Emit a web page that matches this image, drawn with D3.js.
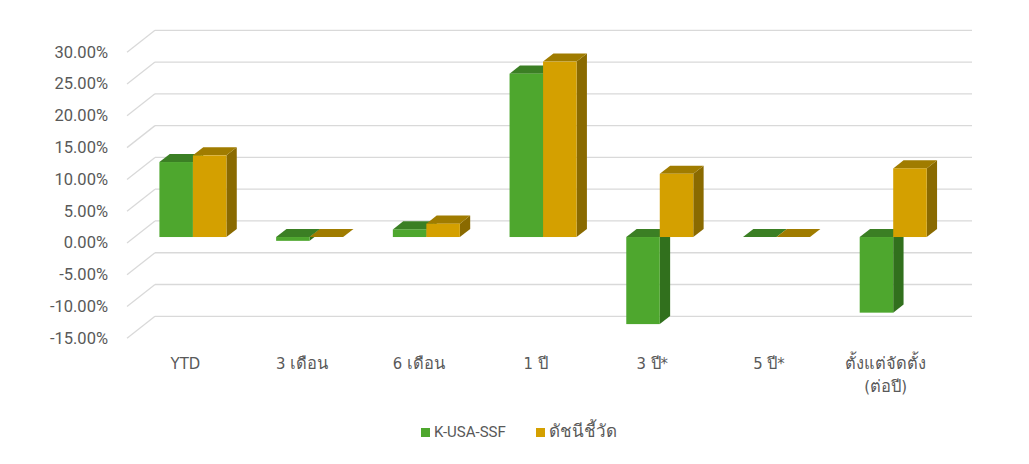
<!DOCTYPE html>
<html>
<head>
<meta charset="utf-8">
<script src="https://cdn.jsdelivr.net/npm/d3@7"></script>
<style>
  html, body { margin: 0; padding: 0; background: #ffffff; }
  svg { display: block; }
</style>
</head>
<body>
<svg id="chart" width="1029" height="464"></svg>
<script>
const categories = ["YTD", "3 เดือน", "6 เดือน", "1 ปี", "3 ปี*", "5 ปี*", "ตั้งแต่จัดตั้ง\n(ต่อปี)"];
const seriesNames = ["K-USA-SSF", "ดัชนีชี้วัด"];
const fundValues = [11.8, -0.6, 1.2, 25.7, -13.7, 0, -11.9];
const indexValues = [12.85, 0, 2.1, 27.6, 9.95, 0, 10.8];
const tickValues = [-15, -10, -5, 0, 5, 10, 15, 20, 25, 30];

const colors = [
  { front: "#4EA72E", top: "#3B7F24", side: "#31701D" },
  { front: "#D4A000", top: "#A07C00", side: "#8A6A00" }
];

const svg = d3.select("#chart");

// Oblique 3D projection: depth offset of the full wall
const DX = 28, DY = 22;
const zFront = 0.27, zBack = 0.64;

const x = d3.scaleBand().domain(categories).range([127, 944]).paddingInner(0).paddingOuter(0);
const y = d3.scaleLinear().domain([-15, 30]).range([338.3, 52.3]);
const barW = 33.5;
const xs = d3.scaleBand().domain(seriesNames).range([-barW, barW]);

const proj = (px, py, z) => [px + DX * z, py - DY * z];

// Gridlines: back wall + side wall
const grid = svg.append("g");
tickValues.forEach(t => {
  const yf = y(t);
  const [bx0, by] = proj(x.range()[0], yf, 1);
  const [bx1] = proj(x.range()[1], yf, 1);
  grid.append("line").attr("x1", x.range()[0]).attr("y1", yf).attr("x2", bx0).attr("y2", by)
    .attr("stroke", "#d9d9d9").attr("stroke-width", 1.3);
  grid.append("line").attr("x1", bx0).attr("y1", by).attr("x2", bx1).attr("y2", by)
    .attr("stroke", "#d9d9d9").attr("stroke-width", 1.3);
});

// Y axis labels
const fmt = v => v.toFixed(2) + "%";
svg.append("g").selectAll("text").data(tickValues).join("text")
  .attr("x", 108).attr("y", d => y(d) + 1)
  .attr("text-anchor", "end").attr("dominant-baseline", "middle")
  .attr("font-family", "Roboto, 'Liberation Sans', sans-serif").attr("font-size", 16.5)
  .attr("fill", "#595959")
  .text(fmt);

// Bars
const series = [fundValues, indexValues];
const bars = svg.append("g");
const ddx = DX * (zBack - zFront), ddy = DY * (zBack - zFront);
categories.forEach((c, i) => {
  series.forEach((vals, s) => {
    const v = vals[i];
    const cx = x(c) + x.bandwidth() / 2;
    const x0f = cx + xs(seriesNames[s]);
    const x1f = x0f + xs.bandwidth();
    const [x0, yTop] = proj(x0f, y(Math.max(v, 0)), zFront);
    const [x1, yBot] = proj(x1f, y(Math.min(v, 0)), zFront);
    const col = colors[s];
    const pts = a => a.map(p => p.join(",")).join(" ");
    bars.append("polygon")
      .attr("points", pts([[x1, yTop], [x1 + ddx, yTop - ddy], [x1 + ddx, yBot - ddy], [x1, yBot]]))
      .attr("fill", col.side);
    bars.append("polygon")
      .attr("points", pts([[x0, yTop], [x1, yTop], [x1 + ddx, yTop - ddy], [x0 + ddx, yTop - ddy]]))
      .attr("fill", col.top);
    bars.append("rect")
      .attr("x", x0).attr("y", yTop).attr("width", x1 - x0).attr("height", yBot - yTop)
      .attr("fill", col.front);
  });
});

// Category labels
const catG = svg.append("g");
categories.forEach(c => {
  const lines = c.split("\n");
  const t = catG.append("text")
    .attr("x", x(c) + x.bandwidth() / 2)
    .attr("y", 369)
    .attr("text-anchor", "middle")
    .attr("font-family", "Tahoma, 'DejaVu Sans Condensed', sans-serif")
    .attr("font-size", 16.5)
    .attr("fill", "#595959");
  lines.forEach((ln, k) => {
    t.append("tspan").attr("x", x(c) + x.bandwidth() / 2).attr("dy", k === 0 ? 0 : 23).text(ln);
  });
});

// Legend
const legend = svg.append("g");
const legendX = [421, 536];
seriesNames.forEach((n, s) => {
  legend.append("rect").attr("x", legendX[s]).attr("y", 428).attr("width", 9).attr("height", 9)
    .attr("fill", colors[s].front);
  legend.append("text").attr("x", legendX[s] + 13).attr("y", 433)
    .attr("dominant-baseline", "middle")
    .attr("font-family", "Roboto, 'Liberation Sans', sans-serif").attr("font-size", s === 0 ? 15 : 17)
    .attr("fill", "#595959").text(n);
});
</script>
</body>
</html>
